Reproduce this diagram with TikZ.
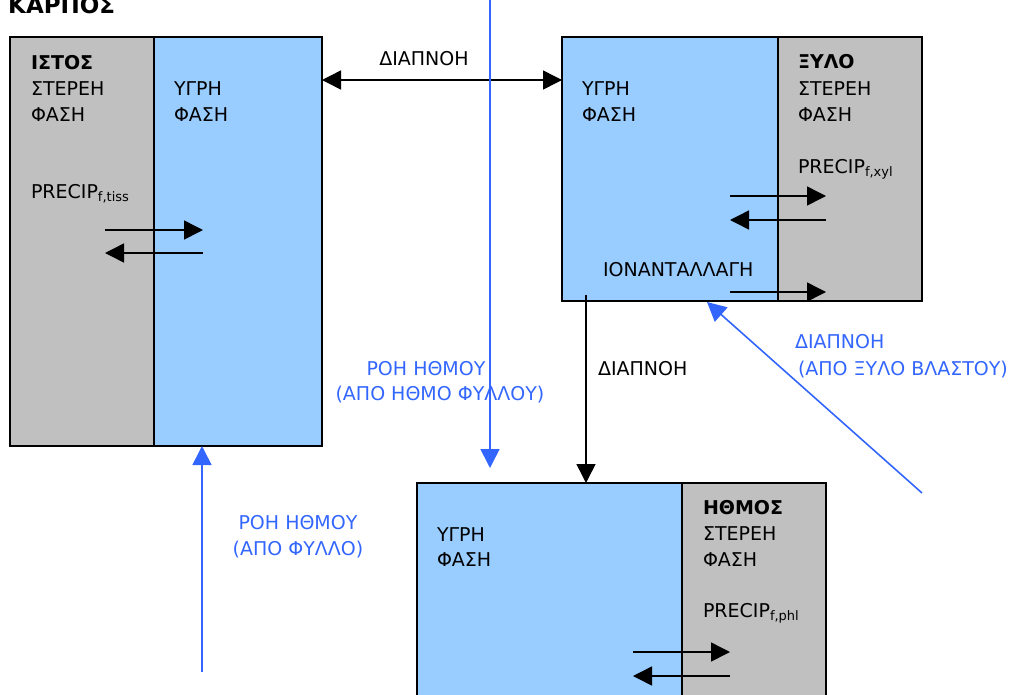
\documentclass[tikz,border=0pt]{standalone}
\usepackage{fontspec}
\setmainfont{DejaVu Sans}
\usetikzlibrary{arrows.meta}
\definecolor{liq}{HTML}{99CCFF}
\definecolor{sol}{HTML}{C0C0C0}
\definecolor{flow}{HTML}{3366FF}
\newcommand{\subtxt}[1]{{\fontsize{13}{13}\selectfont\raisebox{-3pt}{#1}}}
\tikzset{
  txt/.style={anchor=base west,inner sep=0pt,outer sep=0pt,font=\fontsize{19}{26}\selectfont},
  btxt/.style={txt,font=\fontsize{19}{26}\selectfont\bfseries},
  ftxt/.style={txt,text=flow},
  region/.style={draw=black,line width=2pt,anchor=north west,inner sep=0pt,outer sep=0pt},
  liqbox/.style={region,fill=liq},
  solbox/.style={region,fill=sol},
  tip/.style={-{Triangle[length=19pt,width=19pt]}},
  blk/.style={line width=1.5pt,draw=black,tip},
  blkboth/.style={line width=1.5pt,draw=black,{Triangle[length=19pt,width=19pt]}-{Triangle[length=19pt,width=19pt]}},
  flw/.style={line width=1.6pt,draw=flow,-{Triangle[length=19pt,width=19pt,color=flow]}},
}
\begin{document}
\begin{tikzpicture}[x=1pt,y=-1pt]
\useasboundingbox (0,0) rectangle (1017,694);
% boxes
\node[solbox,minimum width=144pt,minimum height=409pt] (solL) at (10,37) {};
\node[liqbox,minimum width=168pt,minimum height=409pt] (liqL) at (154,37) {};
\node[liqbox,minimum width=216pt,minimum height=264pt] (liqTR) at (562,37) {};
\node[solbox,minimum width=144pt,minimum height=264pt] (solTR) at (778,37) {};
\node[liqbox,minimum width=265pt,minimum height=240pt] (liqB) at (417,483) {};
\node[solbox,minimum width=144pt,minimum height=240pt] (solB) at (682,483) {};

% title
\node[anchor=base west,inner sep=0pt,font=\fontsize{23}{26}\selectfont\bfseries] (title) at (8,13) {ΚΑΡΠΟΣ};

% left box texts
\node[btxt] (t1) at (31,69) {ΙΣΤΟΣ};
\node[txt] (t2) at (31,95) {ΣΤΕΡΕΗ};
\node[txt] (t3) at (31,121) {ΦΑΣΗ};
\node[txt] (t4) at (174,95) {ΥΓΡΗ};
\node[txt] (t5) at (174,121) {ΦΑΣΗ};
\node[txt] (t6) at (31,198) {PRECIP\subtxt{f,tiss}};

% top right texts
\node[txt] (r1) at (582,95) {ΥΓΡΗ};
\node[txt] (r2) at (582,121) {ΦΑΣΗ};
\node[btxt] (r3) at (798,68) {ΞΥΛΟ};
\node[txt] (r4) at (798,95) {ΣΤΕΡΕΗ};
\node[txt] (r5) at (798,121) {ΦΑΣΗ};
\node[txt] (r6) at (798,173) {PRECIP\subtxt{f,xyl}};
\node[txt] (r7) at (603,276) {ΙΟΝΑΝΤΑΛΛΑΓΗ};

% bottom texts
\node[txt] (b1) at (437,541) {ΥΓΡΗ};
\node[txt] (b2) at (437,566) {ΦΑΣΗ};
\node[btxt] (b3) at (703,514) {ΗΘΜΟΣ};
\node[txt] (b4) at (703,540) {ΣΤΕΡΕΗ};
\node[txt] (b5) at (703,566) {ΦΑΣΗ};
\node[txt] (b6) at (703,617) {PRECIP\subtxt{f,phl}};

% labels
\node[txt,anchor=base] (d1) at (424,65) {ΔΙΑΠΝΟΗ};
\node[txt] (d2) at (598,375) {ΔΙΑΠΝΟΗ};
\node[ftxt,anchor=base] (f1) at (298,529) {ΡΟΗ ΗΘΜΟΥ};
\node[ftxt,anchor=base] (f2) at (298,555) {(ΑΠΟ ΦΥΛΛΟ)};
\node[ftxt,anchor=base] (f3) at (426,375) {ΡΟΗ ΗΘΜΟΥ};
\node[ftxt,anchor=base] (f4) at (440,400) {(ΑΠΟ ΗΘΜΟ ΦΥΛΛΟΥ)};
\node[ftxt] (f5) at (795,348) {ΔΙΑΠΝΟΗ};
\node[ftxt] (f6) at (798,375) {(ΑΠΟ ΞΥΛΟ ΒΛΑΣΤΟΥ)};

% exchange arrows (free ends)
\coordinate (la1) at (105,230); \coordinate (la2) at (203,230);
\coordinate (la3) at (203,253); \coordinate (la4) at (105,253);
\draw[blk] (la1) -- (la2);
\draw[blk] (la3) -- (la4);
\coordinate (ra1) at (730,196); \coordinate (ra2) at (826,196);
\coordinate (ra3) at (826,220); \coordinate (ra4) at (730,220);
\coordinate (ra5) at (730,292); \coordinate (ra6) at (826,292);
\draw[blk] (ra1) -- (ra2);
\draw[blk] (ra3) -- (ra4);
\draw[blk] (ra5) -- (ra6);
\coordinate (ba1) at (633,652); \coordinate (ba2) at (730,652);
\coordinate (ba3) at (730,676); \coordinate (ba4) at (633,676);
\draw[blk] (ba1) -- (ba2);
\draw[blk] (ba3) -- (ba4);

% connectors
\coordinate (y80) at (0,80);
\draw[blkboth] (liqL.east |- y80) -- (liqTR.west |- y80);
\coordinate (dstart) at (586,295);
\draw[blk] (dstart) -- (dstart |- liqB.north);
\coordinate (ftop) at (490,-5);
\coordinate (fend) at (490,468);
\draw[flw] (ftop) -- (fend);
\coordinate (fbot) at (202,672);
\draw[flw] (fbot) -- (fbot |- liqL.south);
\coordinate (xstart) at (922,493);
\coordinate (xend) at (707,302);
\draw[flw] (xstart) -- (xend);
\end{tikzpicture}
\end{document}
